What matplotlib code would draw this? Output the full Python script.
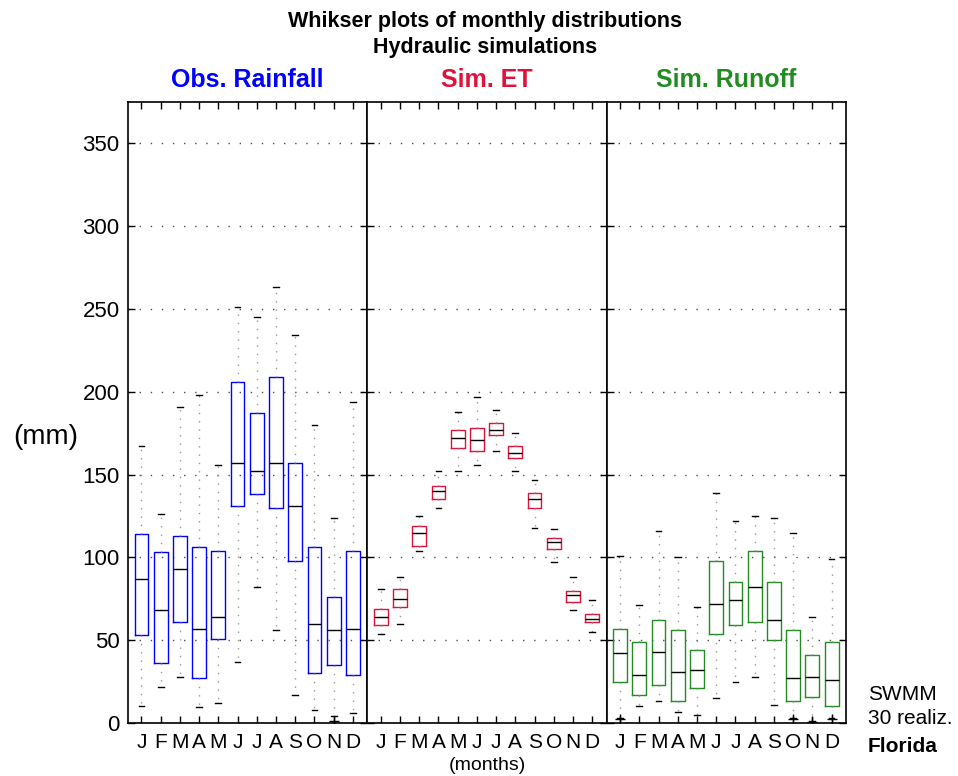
import matplotlib
matplotlib.use('Agg')
import matplotlib.pyplot as plt

plt.rcParams['font.family'] = ['Liberation Sans', 'DejaVu Sans']

# months on the x axis
months = ['J', 'F', 'M', 'A', 'M', 'J', 'J', 'A', 'S', 'O', 'N', 'D']
panels = ['Obs. Rainfall', 'Sim. ET', 'Sim. Runoff']
colors = ['#0000ff', '#dc143c', '#228b22']

# Obs. Rainfall (mm)
rain_q1 = [53, 36, 61, 27, 51, 131, 138, 130, 98, 30, 35, 29]
rain_med = [87, 68, 93, 57, 64, 157, 152, 157, 131, 60, 56, 57]
rain_q3 = [114, 103, 113, 106, 104, 206, 187, 209, 157, 106, 76, 104]
rain_lo = [10, 22, 28, 9.5, 12, 37, 82, 56, 17, 8, 4, 6]
rain_hi = [167, 126, 191, 198, 156, 251, 245, 263, 234, 180, 124, 194]
rain_fl = [[], [], [], [], [], [], [], [], [], [], [1.5], []]

# Sim. ET (mm)
et_q1 = [59, 70, 107, 135, 166, 164, 174, 160, 130, 105, 73, 61]
et_med = [64, 75, 115, 140, 172, 171, 177, 163, 135, 109, 77, 63]
et_q3 = [69, 81, 119, 143, 177, 178, 181, 167, 139, 112, 80, 66]
et_lo = [54, 60, 104, 130, 152, 156, 164, 152, 118, 97, 68, 55]
et_hi = [81, 88, 125, 152, 188, 197, 189, 175, 147, 117, 88, 74]
et_fl = [[] for m in months]

# Sim. Runoff (mm)
run_q1 = [25, 17, 23, 13, 21, 54, 59, 61, 50, 13, 16, 10]
run_med = [42, 29, 43, 31, 32, 72, 74, 82, 62, 27, 28, 26]
run_q3 = [57, 49, 62, 56, 44, 98, 85, 104, 85, 56, 41, 49]
run_lo = [3, 10, 13, 6.5, 5, 15, 25, 28, 11, 3, 1.5, 3]
run_hi = [101, 71, 116, 100, 70, 139, 122, 125, 124, 115, 64, 99]
run_fl = [[2.5], [], [], [], [], [], [], [], [], [2.5], [0.8], [2.5]]

data = [
    (rain_q1, rain_med, rain_q3, rain_lo, rain_hi, rain_fl),
    (et_q1, et_med, et_q3, et_lo, et_hi, et_fl),
    (run_q1, run_med, run_q3, run_lo, run_hi, run_fl),
]

fig = plt.figure(figsize=(9.58, 7.76), dpi=100)

left = 128 / 958
width = (846 - 128) / 958 / 3
bottom = 1 - 723 / 776
height = (723 - 102) / 776

for i, (q1, med, q3, lo, hi, fl) in enumerate(data):
    ax = fig.add_axes([left + i * width, bottom, width, height])
    stats = []
    for k in range(12):
        stats.append(dict(q1=q1[k], med=med[k], q3=q3[k], whislo=lo[k],
                          whishi=hi[k], fliers=fl[k]))
    ax.bxp(stats, positions=range(1, 13), widths=0.72, capwidths=0.3,
           boxprops=dict(color=colors[i], linewidth=1.0),
           medianprops=dict(color='black', linewidth=1.0),
           whiskerprops=dict(color='0.6', linestyle=(0, (1, 5)), linewidth=1.0),
           capprops=dict(color='black', linewidth=1.0),
           flierprops=dict(marker='+', markeredgecolor='black', markersize=7,
                           markeredgewidth=1.0),
           manage_ticks=False)
    ax.set_xlim(0.3, 12.75)
    ax.set_ylim(0, 375)
    ax.set_xticks(range(1, 13))
    ax.set_xticklabels(months, fontsize=15)
    ax.set_yticks([0, 50, 100, 150, 200, 250, 300, 350])
    ax.yaxis.grid(True, color='0.3', linestyle=(0, (1, 7)), linewidth=1.0)
    ax.set_axisbelow(True)
    ax.tick_params(direction='in', top=True, right=True, length=5, width=1,
                   labelsize=15, pad=7)
    ax.tick_params(axis='y', labelsize=16, pad=6)
    if i > 0:
        ax.tick_params(labelleft=False)
    for s in ax.spines.values():
        s.set_linewidth(1.2)
    ax.set_title(panels[i], color=colors[i], fontsize=18, fontweight='bold', pad=11)

fig.text(0.506, 1 - 22 / 776, 'Whikser plots of monthly distributions',
         ha='center', va='center', fontsize=15.5, fontweight='bold')
fig.text(0.506, 1 - 47 / 776, 'Hydraulic simulations',
         ha='center', va='center', fontsize=15.5, fontweight='bold')
fig.text(46 / 958, 1 - 437 / 776, '(mm)', ha='center', va='center', fontsize=20)
fig.text(487 / 958, 1 - 766 / 776, '(months)', ha='center', va='center', fontsize=14)
fig.text(868 / 958, 1 - 694 / 776, 'SWMM', ha='left', va='center', fontsize=15)
fig.text(868 / 958, 1 - 719 / 776, '30 realiz.', ha='left', va='center', fontsize=15)
fig.text(868 / 958, 1 - 746 / 776, 'Florida', ha='left', va='center', fontsize=15,
         fontweight='bold')

fig.savefig('out.png', dpi=100)
